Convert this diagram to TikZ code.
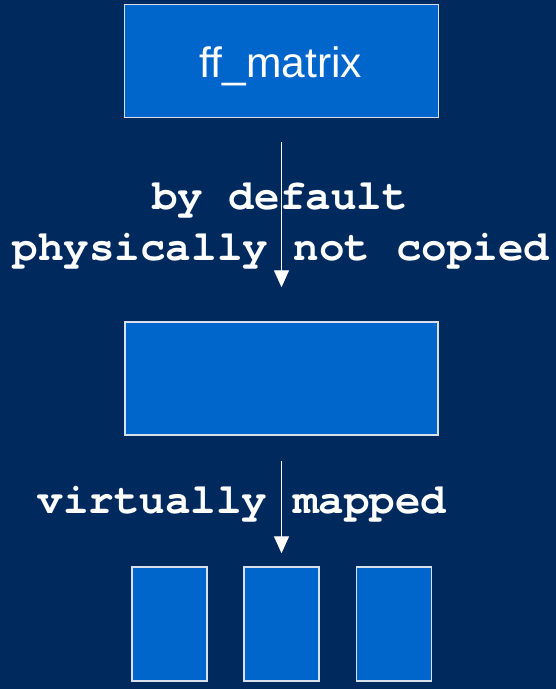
\documentclass[tikz,border=0pt]{standalone}
\usepackage{fontspec}
\setmainfont{Liberation Sans}
\newfontfamily\monob{texgyrecursor-bold.otf}
\usetikzlibrary{arrows.meta}
\definecolor{bgnavy}{HTML}{002A5E}
\definecolor{boxblue}{HTML}{0066CC}
\definecolor{boxline}{HTML}{D8E0EC}
\tikzset{
  blk/.style={draw=boxline, line width=1.5pt, fill=boxblue, inner sep=0pt},
  lbl/.style={text=white, font=\monob\fontsize{42.6}{44}\selectfont, anchor=base, inner sep=0pt},
  arr/.style={draw=white, line width=1.4pt, -{Triangle[width=15pt,length=17pt]}}
}
\begin{document}
\begin{tikzpicture}[x=1pt,y=-1pt]
\fill[bgnavy] (0,0) rectangle (556,689);
\useasboundingbox (0,0) rectangle (556,689);
\node[blk, minimum width=314pt, minimum height=113pt] (top) at (281.5,61) {};
\node[text=white, font=\fontsize{42.5}{44}\selectfont, anchor=base, inner sep=0pt] (toptxt) at (281,77) {ff\_matrix};
\node[blk, minimum width=313pt, minimum height=113pt] (mid) at (281.5,378.5) {};
\node[blk, minimum width=75pt, minimum height=114pt] (b1) at (169.5,624) {};
\node[blk, minimum width=75pt, minimum height=114pt] (b2) at (281.5,624) {};
\node[blk, minimum width=75pt, minimum height=114pt] (b3) at (394,624) {};
\node[lbl] (l1) at (280,209) {by default};
\node[lbl] (l2) at (281,260) {physically not copied};
\node[lbl] (l3) at (242,513) {virtually mapped};
\draw[arr, shorten <=24pt, shorten >=34pt] (top) -- (mid);
\draw[arr, shorten <=25pt, shorten >=13pt] (mid) -- (b2);
\end{tikzpicture}
\end{document}
